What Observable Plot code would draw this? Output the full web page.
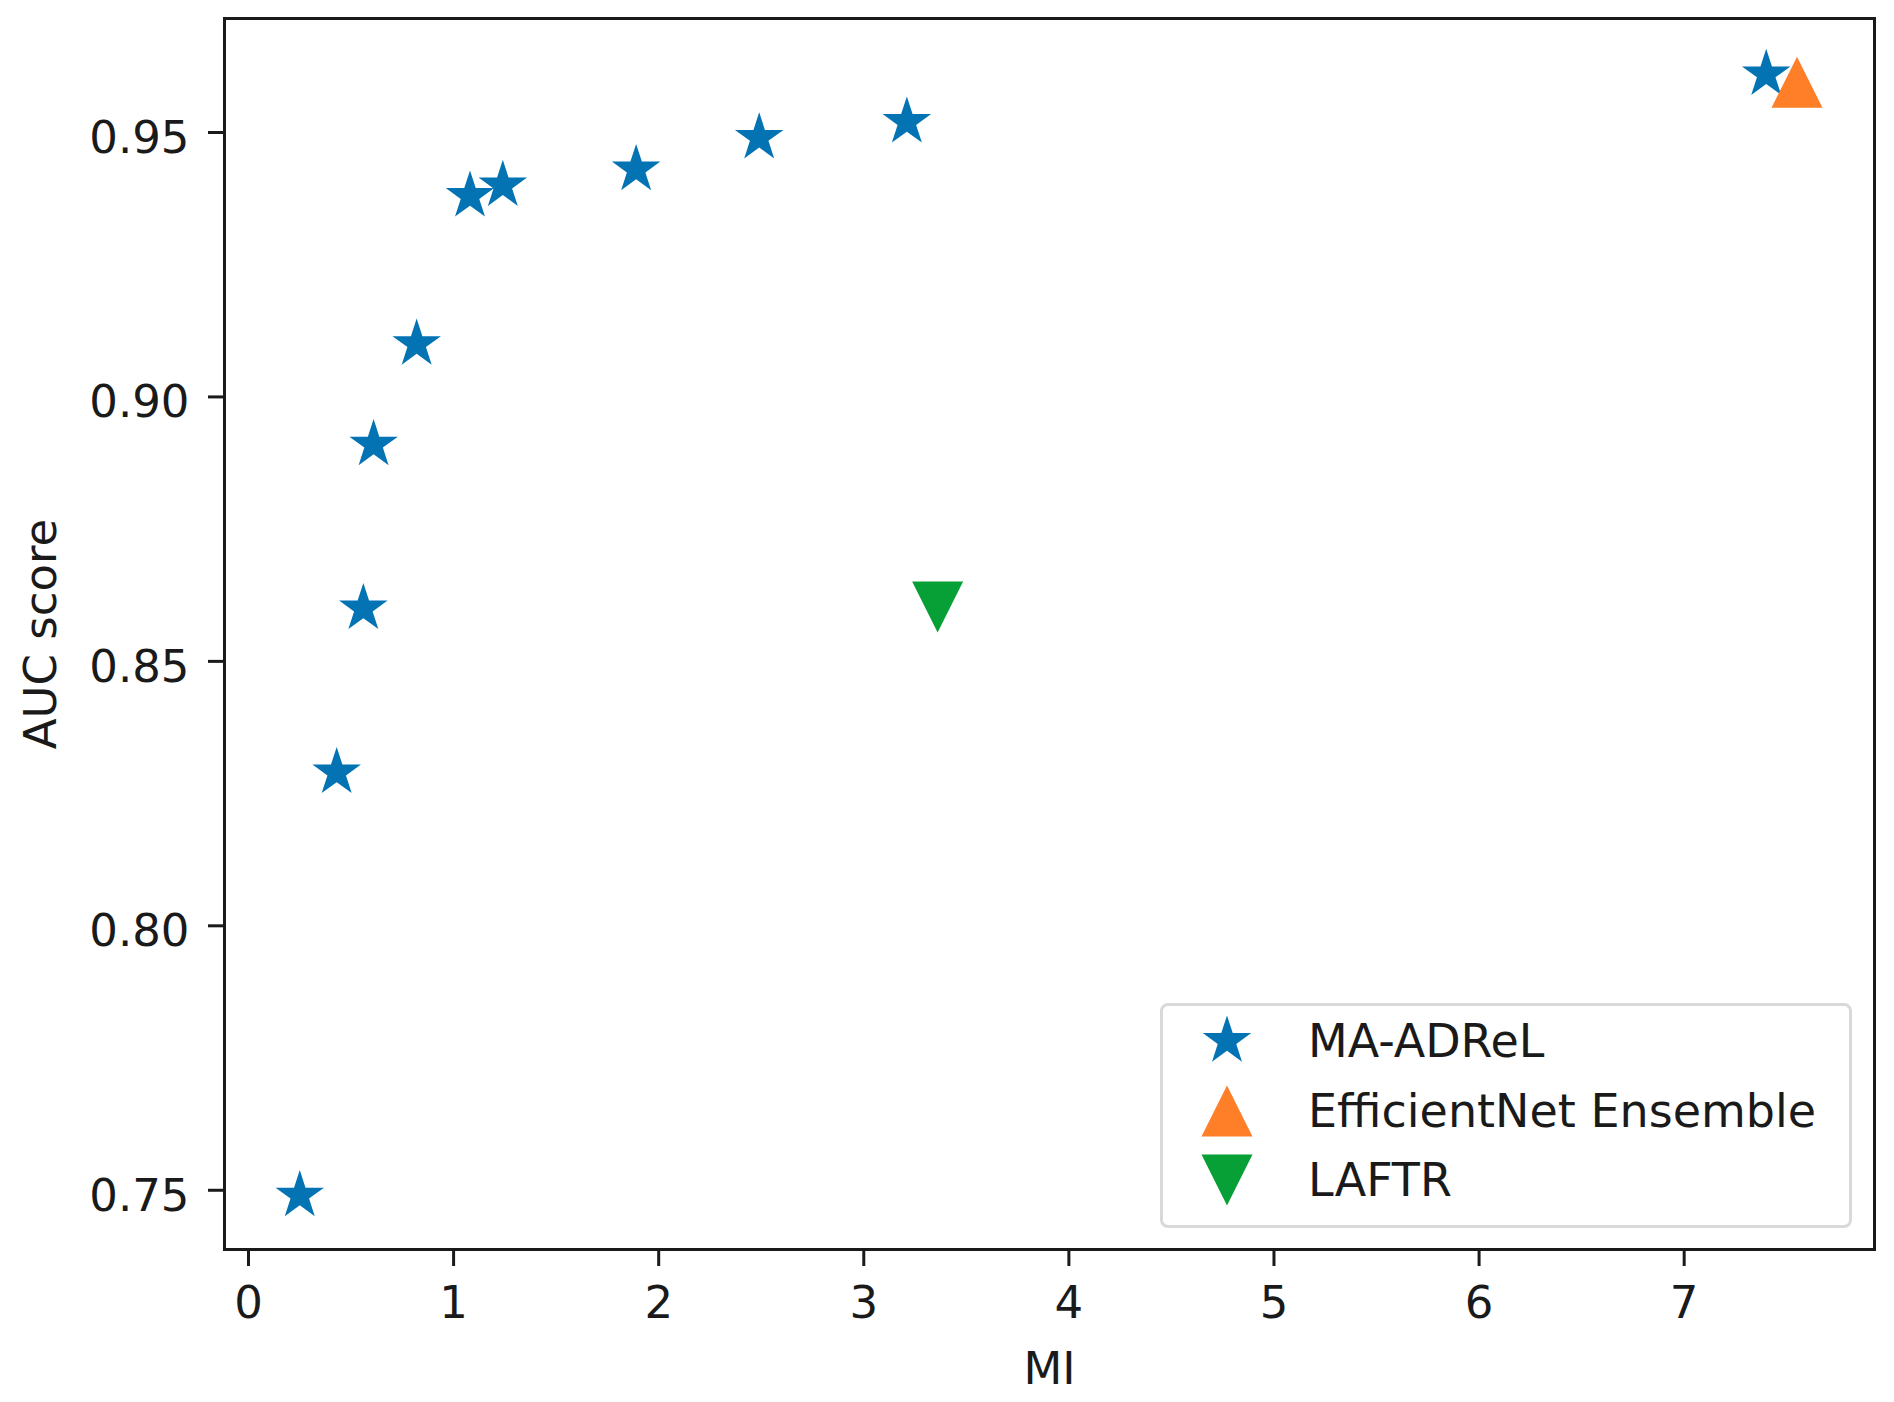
<!DOCTYPE html>
<html>
<head>
<meta charset="utf-8">
<script src="https://cdn.jsdelivr.net/npm/d3@7"></script>
<script src="https://cdn.jsdelivr.net/npm/@observablehq/plot@0.6"></script>
<style>
  html, body { margin: 0; padding: 0; background: #fff; }
  #wrap { position: relative; width: 1894px; height: 1402px; font-family: "DejaVu Sans", sans-serif; color: #1a1a1a; }
  #legend { position: absolute; left: 1160px; top: 1003px; width: 692px; height: 225px; box-sizing: border-box;
            border: 3px solid #d9d9d9; border-radius: 8px; background: rgba(255,255,255,0.85); }
  .item { position: absolute; left: 0; height: 70px; width: 100%; }
  .item svg { position: absolute; left: 34px; top: 5px; }
  .item span { position: absolute; left: 145px; top: 0; line-height: 70px; font-size: 46px; white-space: nowrap; }
</style>
</head>
<body>
<div id="wrap"><div id="chart"></div><div id="legend"></div></div>
<script>
// ---- data ----
const seriesNames = ["MA-ADReL", "EfficientNet Ensemble", "LAFTR"];
const seriesColors = ["#0373b4", "#fe7f28", "#07a037"];
const maMI  = [0.25, 0.43, 0.56, 0.61, 0.82, 1.08, 1.24, 1.89, 2.49, 3.21, 7.40];
const maAUC = [0.749, 0.829, 0.860, 0.891, 0.910, 0.938, 0.940, 0.943, 0.949, 0.952, 0.961];
const effMI  = [7.55];
const effAUC = [0.9595];
const laftrMI  = [3.36];
const laftrAUC = [0.8603];
const xTicks = [0, 1, 2, 3, 4, 5, 6, 7];
const yTicks = [0.75, 0.80, 0.85, 0.90, 0.95];

// ---- marker shapes (matplotlib-like: star, ^, v) ----
const starSym = {draw(ctx, size) {
  const R = Math.sqrt(size / Math.PI), ri = R * 0.381966;
  for (let i = 0; i < 10; ++i) {
    const a = -Math.PI / 2 + i * Math.PI / 5, rr = i % 2 ? ri : R;
    const px = rr * Math.cos(a), py = rr * Math.sin(a);
    i ? ctx.lineTo(px, py) : ctx.moveTo(px, py);
  }
  ctx.closePath();
}};
const triUpSym = {draw(ctx, size) {
  const R = Math.sqrt(size / Math.PI);
  ctx.moveTo(0, -R); ctx.lineTo(R, R); ctx.lineTo(-R, R); ctx.closePath();
}};
const triDownSym = {draw(ctx, size) {
  const R = Math.sqrt(size / Math.PI);
  ctx.moveTo(0, R); ctx.lineTo(R, -R); ctx.lineTo(-R, -R); ctx.closePath();
}};
const symbols = [starSym, triUpSym, triDownSym];
const markerR = 25.5;

const toRows = (name, xs, ys) => xs.map((x, i) => ({series: name, mi: x, auc: ys[i]}));
const maRows = toRows(seriesNames[0], maMI, maAUC);
const effRows = toRows(seriesNames[1], effMI, effAUC);
const laftrRows = toRows(seriesNames[2], laftrMI, laftrAUC);

const ink = "#1a1a1a";
const chart = Plot.plot({
  width: 1894,
  height: 1402,
  marginLeft: 224,
  marginRight: 20,
  marginTop: 18,
  marginBottom: 153,
  style: {fontFamily: "DejaVu Sans", fontSize: "45px", background: "#fff", color: ink},
  x: {domain: [-0.117, 7.928]},
  y: {domain: [0.7388, 0.97155]},
  marks: [
    Plot.dot(maRows, {x: "mi", y: "auc", r: markerR, symbol: symbols[0], fill: seriesColors[0], stroke: "none"}),
    Plot.dot(effRows, {x: "mi", y: "auc", r: markerR, symbol: symbols[1], fill: seriesColors[1], stroke: "none"}),
    Plot.dot(laftrRows, {x: "mi", y: "auc", r: markerR, symbol: symbols[2], fill: seriesColors[2], stroke: "none"}),
    Plot.axisX({ticks: xTicks, tickFormat: d3.format("d"), tickSize: 17, tickPadding: 20, strokeWidth: 3, stroke: ink, fill: ink,
                label: "MI", labelAnchor: "center", labelOffset: 134, labelArrow: "none"}),
    Plot.axisY({ticks: yTicks, tickSize: 16, strokeWidth: 3, stroke: ink, fill: "none", label: null}),
    Plot.axisY({ticks: yTicks, tickFormat: d3.format(".2f"), tickSize: 16, tickPadding: 19, stroke: "none", fill: ink, dy: 6,
                label: "AUC score", labelAnchor: "center", labelOffset: 200, labelArrow: "none"}),
    Plot.frame({stroke: ink, strokeWidth: 3})
  ]
});
document.getElementById("chart").appendChild(chart);

// ---- legend (lower right, inside axes) ----
const legend = d3.select("#legend");
const rowCenters = [38, 108, 177];
seriesNames.forEach((name, i) => {
  const item = legend.append("div").attr("class", "item").style("top", (rowCenters[i] - 3 - 35) + "px");
  const svg = item.append("svg").attr("width", 60).attr("height", 60).attr("viewBox", "-30 -30 60 60");
  const p = d3.path();
  symbols[i].draw(p, markerR * markerR * Math.PI);
  svg.append("path").attr("d", p.toString()).attr("fill", seriesColors[i]);
  item.append("span").text(name);
});
</script>
</body>
</html>
